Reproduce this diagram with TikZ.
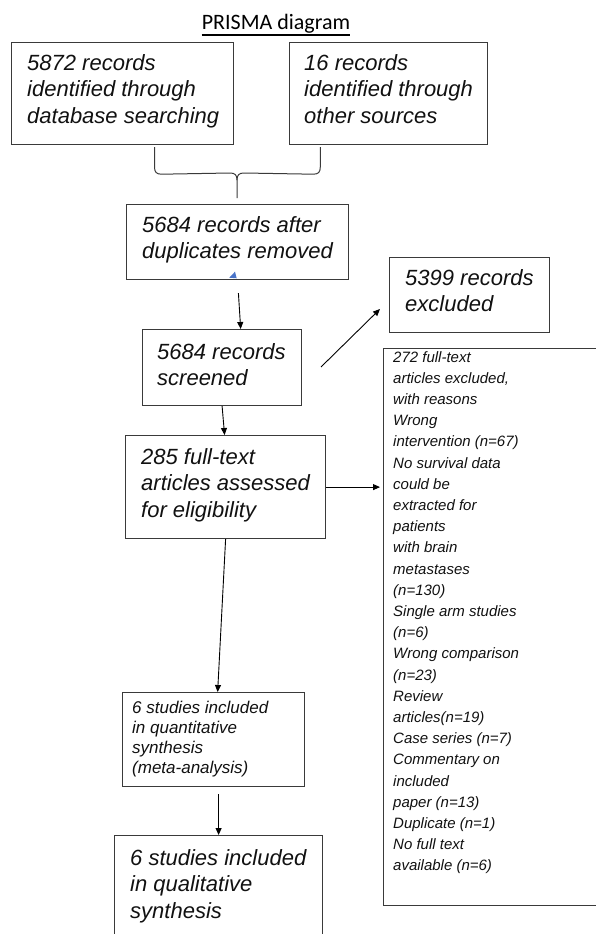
\documentclass[tikz,border=0pt]{standalone}
\usepackage{fontspec}
\setmainfont{Liberation Sans}
\newfontfamily\titlefont{Carlito}
\usetikzlibrary{arrows.meta,calc}
\definecolor{boxgray}{HTML}{3A3A3A}
\definecolor{txtblack}{HTML}{111111}
\definecolor{tipblue}{HTML}{4A74C9}
\begin{document}
\begin{tikzpicture}[x=1pt,y=-1pt,
  box/.style={draw=boxgray, line width=1.2pt, anchor=north west, inner sep=0pt, rectangle},
  bigtxt/.style={anchor=base west, inner sep=0pt, align=left, text=txtblack,
    font=\itshape\fontsize{22}{26.5}\selectfont},
  midtxt/.style={anchor=base west, inner sep=0pt, align=left, text=txtblack,
    font=\itshape\fontsize{17}{20.2}\selectfont},
  smalltxt/.style={anchor=base west, inner sep=0pt, align=left, text=txtblack,
    font=\itshape\fontsize{15}{21.2}\selectfont},
  arr/.style={draw=black, line width=0.9pt, -{Triangle[length=7pt,width=6pt]}},
  bracel/.style={draw=boxgray, line width=1pt}]
\useasboundingbox (0,0) rectangle (596,934);
\clip (0,0) rectangle (596,934);

% title
\node[anchor=base, inner sep=0pt, font=\titlefont\fontsize{22}{26}\selectfont] (title) at (276,30) {PRISMA diagram};
\draw[line width=1.1pt] ($(title.base west)+(0,5)$) -- ($(title.base east)+(0,5)$);

% boxes
\node[box, minimum width=222pt, minimum height=102pt] (b1) at (11,42) {};
\node[box, minimum width=198pt, minimum height=102pt] (b2) at (289,42) {};
\node[box, minimum width=222pt, minimum height=75pt] (b3) at (126,204) {};
\node[box, minimum width=159pt, minimum height=76pt] (b4) at (142,329) {};
\node[box, minimum width=160pt, minimum height=75pt] (b5) at (389,257) {};
\node[box, minimum width=220pt, minimum height=557pt] (b6) at (383,348) {};
\node[box, minimum width=200pt, minimum height=103pt] (b7) at (125,435) {};
\node[box, minimum width=182pt, minimum height=94pt] (b8) at (122,692) {};
\node[box, minimum width=208pt, minimum height=110pt] (b9) at (114,835) {};

% texts (anchored at the baseline of their last line)
\node[bigtxt] (t1) at (27,123) {5872 records\\identified through\\database searching};
\node[bigtxt] (t2) at (304,123) {16 records\\identified through\\other sources};
\node[bigtxt] (t3) at (142,258.5) {5684 records after\\duplicates removed};
\node[bigtxt] (t4) at (157,385.5) {5684 records\\screened};
\node[bigtxt] (t5) at (405,311.5) {5399 records\\excluded};
\node[smalltxt] (t6) at (393,870.8) {272 full-text\\articles excluded,\\with reasons\\Wrong\\intervention (n=67)\\No survival data\\could be\\extracted for\\patients\\with brain\\metastases\\(n=130)\\Single arm studies\\(n=6)\\Wrong comparison\\(n=23)\\Review\\articles(n=19)\\Case series (n=7)\\Commentary on\\included\\paper (n=13)\\Duplicate (n=1)\\No full text\\available (n=6)};
\node[bigtxt] (t7) at (141,517) {285 full-text\\articles assessed\\for eligibility};
\node[midtxt] (t8) at (132,773.6) {6 studies included\\in quantitative\\synthesis\\(meta-analysis)};
\node[bigtxt] (t9) at (130,918) {6 studies included\\in qualitative\\synthesis};

% brace joining the two sources
\coordinate (brl) at ($(b1.south west)!0.643!(b1.south east)$);
\coordinate (brr) at ($(b2.south west)!0.157!(b2.south east)$);
\coordinate (brt) at (237,198);
\draw[bracel] ($(brl)+(0,2)$) -- ($(brl)+(0,22)$) .. controls ($(brl)+(0,27)$) and ($(brl)+(2,29)$) .. ($(brl)+(7,29)$)
  -- (230,173) .. controls (235,173) and (237,175) .. (237,180) -- (brt);
\draw[bracel] ($(brr)+(0,2)$) -- ($(brr)+(0,22)$) .. controls ($(brr)+(0,27)$) and ($(brr)+(-2,29)$) .. ($(brr)+(-7,29)$)
  -- (244,173) .. controls (239,173) and (237,175) .. (237,180);

% small blue mark
\fill[tipblue] (229.3,277.7) -- (236.7,278.3) -- (235,271.7) -- cycle;

% connectors
\draw[arr, shorten <=13pt] (b3.south) -- ($(b4.north west)!0.616!(b4.north east)$);
\coordinate (x1s) at (321,367);
\coordinate (x1e) at (380,309);
\draw[arr] (x1s) -- (x1e);
\draw[arr] (b4.south) -- ($(b7.north west)!0.495!(b7.north east)$);
\draw[arr, shorten >=3pt] (b7.east) -- (b7.east -| b6.west);
\draw[arr] (b7.south) -- ($(b8.north west)!0.522!(b8.north east)$);
\draw[arr, shorten <=7pt] (b9.north |- b8.south) -- (b9.north);
\end{tikzpicture}
\end{document}
